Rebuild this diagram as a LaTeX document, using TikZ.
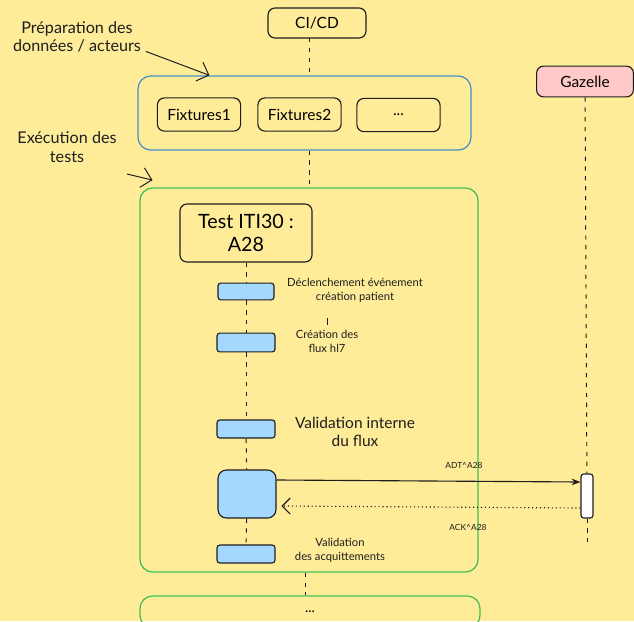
\documentclass[tikz,border=0pt]{standalone}
\usepackage{fontspec}
\setmainfont{Lato}
\usetikzlibrary{arrows.meta,positioning}
\definecolor{canvas}{RGB}{255,236,153}
\definecolor{ink}{RGB}{30,30,30}
\definecolor{prepblue}{RGB}{70,145,200}
\definecolor{execgreen}{RGB}{64,192,87}
\definecolor{barblue}{RGB}{165,216,255}
\definecolor{gzpink}{RGB}{255,201,201}
\tikzset{
  actor/.style={draw=ink, line width=0.8pt, rounded corners=5pt, font=\fontsize{11}{13}\selectfont},
  zone/.style={line width=0.9pt, rounded corners=9pt},
  fixbox/.style={draw=ink, line width=0.8pt, rounded corners=5pt, minimum width=2.08cm, minimum height=0.83cm, font=\fontsize{11}{13}\selectfont},
  stepbar/.style={draw=ink, fill=barblue, line width=0.8pt, rounded corners=2pt, minimum width=1.45cm, minimum height=0.45cm, inner sep=0pt},
  life/.style={ink, line width=0.7pt, dash pattern=on 3pt off 4pt},
  note/.style={ink, line width=0.7pt, -{Straight Barb[length=2.5mm]}},
  hand/.style={font=\fontsize{11.5}{13}\selectfont, align=center, text=ink},
  slbl/.style={font=\fontsize{8}{10}\selectfont, align=center, text=ink},
  tlbl/.style={font=\fontsize{6}{7}\selectfont, text=ink},
  msg/.style={ink, line width=0.8pt, -{Stealth[length=2.2mm]}},
  reply/.style={ink, line width=0.8pt, dotted, -{Straight Barb[length=2mm]}},
}
\begin{document}
\begin{tikzpicture}[x=0.025cm, y=-0.025cm]
  \fill[canvas] (0,0) rectangle (634,621);
  \useasboundingbox (0,0) rectangle (634,621);
  \clip (0,0) rectangle (634,621);

  % acteurs
  \node[actor, minimum width=2.45cm, minimum height=0.75cm] (cicd) at (317,23) {CI/CD};
  \node[actor, fill=gzpink, minimum width=2.42cm, minimum height=0.77cm, font=\fontsize{11}{13}\selectfont] (gazelle) at (585,81.5) {Gazelle};

  % preparation
  \node[zone, draw=prepblue, minimum width=8.32cm, minimum height=1.85cm] (prep) at (304.5,113) {};
  \node[fixbox] (fix1) at (199,114.5) {Fixtures1};
  \node[fixbox] (fix2) at (299.5,114.5) {Fixtures2};
  \node[fixbox] (fix3) at (398.5,115) {...};

  % execution
  \node[zone, draw=execgreen, minimum width=8.45cm, minimum height=9.6cm] (exec) at (309,380) {};
  \node[actor, minimum width=3.3cm, minimum height=1.45cm, align=center, font=\fontsize{14}{16}\selectfont] (test) at (246,233) {Test ITI30 :\\A28};
  \node[zone, draw=execgreen, minimum width=8.5cm, minimum height=0.8cm] (more) at (310,612) {...};

  % lignes de vie
  \coordinate (cilife) at (309,38);
  \draw[life] (cilife) -- (cilife |- prep.north);
  \draw[life] (cilife |- prep.south) -- (cilife |- exec.north);
  \coordinate (nextlife) at (305,575);
  \draw[life] (nextlife |- exec.south) -- (nextlife |- more.north);
  \coordinate (gzend) at (587,545);

  \node[stepbar, minimum width=1.4cm, minimum height=0.42cm] (bar1) at (246,291.5) {};
  \node[stepbar, minimum height=0.47cm] (bar2) at (246,342.5) {};
  \node[stepbar] (bar3) at (246,429) {};
  \node[stepbar, minimum height=1.2cm, rounded corners=6pt] (bar4) at (247,494) {};
  \node[stepbar] (bar5) at (246,554) {};
  \node[draw=ink, fill=white, line width=0.8pt, rounded corners=2pt, minimum width=0.3cm, minimum height=1.1cm, inner sep=0pt] (ack) at (587,496) {};
  \foreach \a/\b in {test/bar1, bar1/bar2, bar2/bar3, bar3/bar4, bar4/bar5}
    \draw[life] (\a) -- (\b);
  \draw[life] (gazelle) -- (ack);
  \draw[life] (ack) -- (gzend);

  % textes
  \node[hand] (preplbl) at (77,37) {Préparation des\\données / acteurs};
  \node[hand] (execlbl) at (67,147) {Exécution des\\tests};
  \node[slbl] (lbl1) at (355,290) {Déclenchement événement\\création patient};
  \node[slbl] (lbl2) at (327,341) {Création des\\flux hl7};
  \node[hand, font=\fontsize{11}{13}\selectfont] (lbl3) at (355,432) {Validation interne\\du flux};
  \node[slbl] (lbl5) at (340,550) {Validation\\des acquittements};
  \node[tlbl] (adt) at (464,465) {ADT\textasciicircum A28};
  \node[tlbl] (ackl) at (468,527) {ACK\textasciicircum A28};
  \draw[ink, line width=0.6pt] (lbl2.north) -- ++(0,-7);

  \draw[note] ([yshift=0.15cm]preplbl.south east) -- ([xshift=1.8cm]prep.north west);
  \coordinate (execarr) at (127,174);
  \draw[note] (execarr) -- ([xshift=0.33cm,yshift=0.18cm]exec.north west);

  % messages
  \draw[msg] ([yshift=0.35cm]bar4.east) -- ([yshift=0.35cm]ack.west);
  \draw[reply] ([yshift=-0.3cm]ack.west) -- ([yshift=-0.3cm,xshift=0.12cm]bar4.east);
\end{tikzpicture}
\end{document}
